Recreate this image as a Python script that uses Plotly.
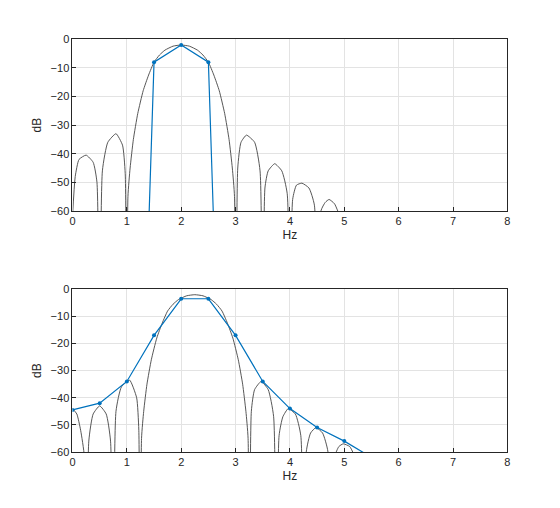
import plotly.graph_objects as go
from plotly.subplots import make_subplots

# top: continuous spectrum (gray)
top_curve_x = [0, 0.05, 0.12, 0.25, 0.38, 0.45, 0.5,
               0.55, 0.65, 0.8, 0.92, 0.97, 1.0,
               1.02, 1.06, 1.12, 1.2, 1.3, 1.4, 1.5, 1.6, 1.7, 1.85, 2.0, 2.15, 2.3, 2.4, 2.5, 2.6, 2.7, 2.8, 2.88, 2.94, 2.98, 3.0,
               3.04, 3.1, 3.2, 3.35, 3.45, 3.5,
               3.54, 3.6, 3.72, 3.85, 3.95, 4.0,
               4.05, 4.12, 4.22, 4.35, 4.45, 4.5,
               4.57, 4.65, 4.72, 4.82, 4.9]
top_curve_y = [-62, -48, -42, -40.5, -43, -50, -300,
               -46, -36, -33, -37, -47, -300,
               -55, -45, -35, -26, -18, -12.5, -8, -5.5, -3.8, -2.4, -2, -2.4, -3.8, -5.5, -8, -12.5, -18, -26, -35, -45, -55, -300,
               -45, -36, -33.5, -36, -46, -300,
               -52, -46, -43.5, -46, -54, -300,
               -56, -51, -50.3, -52, -58, -300,
               -60, -57, -56, -57.5, -61]
top_dft_x = [1.0, 1.5, 2.0, 2.5, 3.0]
top_dft_y = [-300, -8, -2, -8, -300]

bot_curve_x = [0, 0.08, 0.15, 0.22, 0.25,
               0.3, 0.38, 0.5, 0.62, 0.7, 0.75,
               0.8, 0.9, 1.05, 1.18, 1.22, 1.25,
               1.27, 1.31, 1.37, 1.45, 1.55, 1.65, 1.75, 1.85, 1.95, 2.1, 2.25, 2.4, 2.55, 2.65, 2.75, 2.85, 2.95, 3.05, 3.13, 3.19, 3.23, 3.25,
               3.29, 3.35, 3.47, 3.6, 3.7, 3.75,
               3.8, 3.87, 3.97, 4.1, 4.2, 4.25,
               4.3, 4.38, 4.48, 4.6, 4.7, 4.75,
               4.82, 4.9, 4.98, 5.1, 5.2]
bot_curve_y = [-44, -46, -52, -62, -300,
               -56, -46, -43, -46, -56, -300,
               -45, -36, -33.5, -40, -52, -300,
               -55, -45, -35, -26, -18, -12.5, -8, -5.5, -3.8, -2.4, -2, -2.4, -3.8, -5.5, -8, -12.5, -18, -26, -35, -45, -55, -300,
               -45, -37, -34, -37, -47, -300,
               -54, -47, -44, -46, -54, -300,
               -60, -53, -51, -53, -60, -300,
               -62, -58, -57, -58, -62]
bot_dft_x = [0, 0.5, 1.0, 1.5, 2.0, 2.5, 3.0, 3.5, 4.0, 4.5, 5.0, 5.5]
bot_dft_y = [-44.5, -42, -34, -17, -3.5, -3.5, -17, -34, -44, -51, -56, -62]

gray = "#444444"
blue = "#0072BD"

fig = make_subplots(rows=2, cols=1)
panels = [(top_curve_x, top_curve_y, top_dft_x, top_dft_y),
          (bot_curve_x, bot_curve_y, bot_dft_x, bot_dft_y)]
for i, (cx, cy, dx, dy) in enumerate(panels, start=1):
    fig.add_trace(go.Scatter(x=cx, y=cy, mode="lines", line=dict(color=gray, width=0.9, shape="spline", smoothing=0.5)), row=i, col=1)
    fig.add_trace(go.Scatter(x=dx, y=dy, mode="lines+markers", line=dict(color=blue, width=1.2),
                             marker=dict(color=blue, size=4)), row=i, col=1)

axis_style = dict(showgrid=True, gridcolor="#e3e3e3", showline=True, linecolor="#262626", mirror=True,
                  ticks="inside", ticklen=4, tickcolor="#262626", zeroline=False,
                  tickfont=dict(size=11, color="#262626"))
fig.update_xaxes(range=[0, 8], dtick=1, title=dict(text="Hz", font=dict(size=12, color="#262626"), standoff=4), **axis_style)
fig.update_yaxes(range=[-60, 0], dtick=10, title=dict(text="dB", font=dict(size=12, color="#262626"), standoff=6), **axis_style)
fig.update_layout(
    width=560, height=508, showlegend=False, plot_bgcolor="white", paper_bgcolor="white",
    font=dict(family="Liberation Sans, Arial, sans-serif"),
    margin=dict(l=0, r=0, t=0, b=0),
    xaxis=dict(domain=[0.111, 0.896]), xaxis2=dict(domain=[0.111, 0.896]),
    yaxis=dict(domain=[0.603, 0.949]), yaxis2=dict(domain=[0.117, 0.445]),
)
fig.write_html("out.html")
